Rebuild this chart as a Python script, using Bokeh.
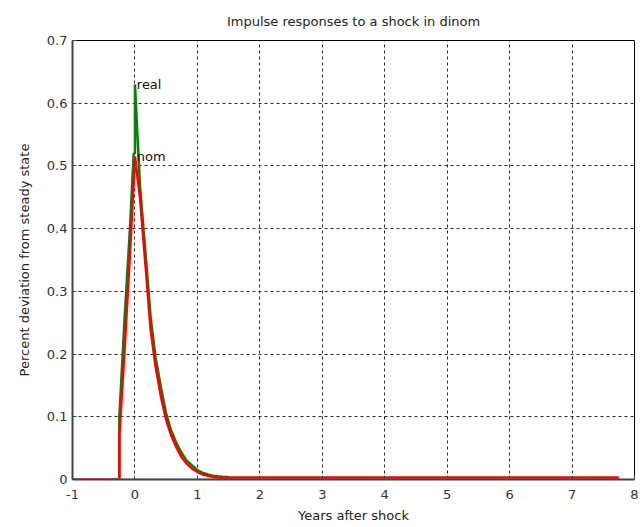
from bokeh.plotting import figure
from bokeh.embed import file_html
from bokeh.resources import INLINE
from bokeh.models import FixedTicker, Range1d
from bokeh.core.properties import value

# Data
nom_x = [-1.0, -0.25, -0.25, -0.17, -0.08, 0.0, 0.08, 0.17, 0.25, 0.33, 0.42, 0.5,
         0.58, 0.67, 0.75, 0.83, 0.92, 1.0, 1.08, 1.17, 1.25, 1.33, 1.42, 1.5,
         2.0, 3.0, 4.0, 5.0, 6.0, 7.0, 7.75]
nom_y = [0.0, 0.0, 0.07, 0.2, 0.36, 0.515, 0.45, 0.34, 0.24, 0.18, 0.13, 0.095,
         0.07, 0.05, 0.035, 0.025, 0.017, 0.012, 0.008, 0.006, 0.004, 0.003, 0.003, 0.003,
         0.003, 0.003, 0.003, 0.003, 0.003, 0.003, 0.003]

real_x = [-0.25, -0.25, -0.17, -0.08, -0.02, 0.0, 0.0, 0.04, 0.08, 0.17, 0.25, 0.33,
          0.42, 0.5, 0.58, 0.67, 0.75, 0.83, 0.92, 1.0, 1.08, 1.17, 1.25, 1.33, 1.42, 1.5]
real_y = [0.0, 0.1, 0.25, 0.4, 0.52, 0.52, 0.63, 0.55, 0.47, 0.36, 0.26, 0.195,
          0.145, 0.105, 0.078, 0.057, 0.042, 0.03, 0.022, 0.015, 0.011, 0.008, 0.006,
          0.005, 0.004, 0.004]

base_x = [-0.25, 7.75]
base_y = [0.0, 0.0]

x_ticks = [-1, 0, 1, 2, 3, 4, 5, 6, 7, 8]
x_tick_labels = {-1: "-1"}
y_ticks = [0, 0.1, 0.2, 0.3, 0.4, 0.5, 0.6, 0.7]
y_tick_labels = {0: "0", 0.1: "0.1", 0.2: "0.2", 0.3: "0.3", 0.4: "0.4",
                 0.5: "0.5", 0.6: "0.6", 0.7: "0.7"}

FONT = "DejaVu Sans"

p = figure(width=644, height=527, output_backend="svg", toolbar_location=None,
           x_range=Range1d(-1, 8), y_range=Range1d(0, 0.7),
           min_border_left=72, min_border_right=10, min_border_top=39,
           min_border_bottom=48,
           title="Impulse responses to a shock in dinom")

p.title.align = "center"
p.title.text_font = FONT
p.title.text_font_size = "13px"
p.title.text_font_style = "normal"
p.title.text_color = "#222222"
p.title.offset = 0
p.title.standoff = 23

p.background_fill_color = "white"
p.border_fill_color = "white"
p.outline_line_color = "black"
p.outline_line_width = 1

for ax in (p.xaxis[0], p.yaxis[0]):
    ax.major_label_text_font = FONT
    ax.major_label_text_font_size = "13px"
    ax.major_label_text_color = "#333333"
    ax.axis_label_text_font = FONT
    ax.axis_label_text_font_size = "13px"
    ax.axis_label_text_font_style = "normal"
    ax.axis_label_text_color = "#222222"
    ax.axis_line_color = "#444444"
    ax.axis_line_width = 2
    ax.major_tick_in = 4
    ax.major_tick_out = 0
    ax.minor_tick_line_color = None
    ax.major_tick_line_color = "#444444"

p.xaxis.major_label_standoff = 10
p.xaxis.axis_label_standoff = 6
p.yaxis.major_label_standoff = 5
p.yaxis.axis_label_standoff = 12

p.xaxis.ticker = FixedTicker(ticks=x_ticks)
p.xaxis.major_label_overrides = x_tick_labels
p.yaxis.ticker = FixedTicker(ticks=y_ticks)
p.yaxis.major_label_overrides = y_tick_labels
p.xaxis.axis_label = "Years after shock"
p.yaxis.axis_label = "Percent deviation from steady state"

p.xgrid.ticker = FixedTicker(ticks=x_ticks[1:-1])
p.ygrid.ticker = FixedTicker(ticks=y_ticks[1:-1])
for g in (p.xgrid[0], p.ygrid[0]):
    g.grid_line_color = "black"
    g.grid_line_dash = "3 3"
    g.grid_line_width = 1
    g.grid_line_alpha = 0.85

p.line(base_x, base_y, line_color="#6a6aff", line_width=1.5)
p.line(real_x, real_y, line_color="#0a7d0a", line_width=2.5)
p.line(nom_x, nom_y, line_color="#ff0000", line_width=2.5)

# series labels at their peaks
ri = real_y.index(max(real_y))
ni = nom_y.index(max(nom_y))
p.text(x=[real_x[ri] + 0.03], y=[real_y[ri]], text=["real"],
       text_font=value(FONT), text_font_size="13px", text_color="#111111",
       text_baseline="middle", text_align="left")
p.text(x=[nom_x[ni] + 0.03], y=[nom_y[ni]], text=["nom"],
       text_font=value(FONT), text_font_size="13px", text_color="#111111",
       text_baseline="middle", text_align="left")

open("out.html", "w").write(file_html(p, INLINE))
